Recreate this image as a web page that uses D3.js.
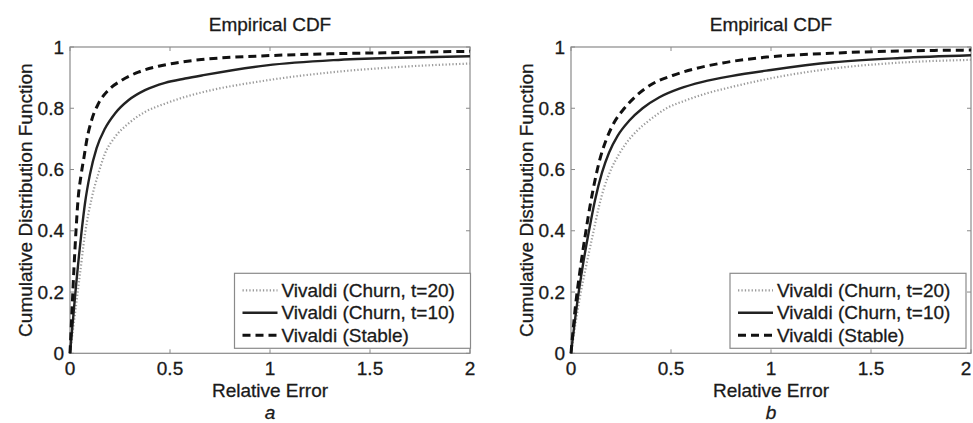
<!DOCTYPE html>
<html>
<head>
<meta charset="utf-8">
<script src="https://cdn.jsdelivr.net/npm/d3@7"></script>
<style>
	body { margin: 0; background: #fff; }
	svg { display: block; }
	text { font-family: "Liberation Sans", Arial, sans-serif; fill: #1a1a1a; stroke: #1a1a1a; stroke-width: 0.3; }
</style>
</head>
<body>
<div id="chart"></div>
<script>
// series: relative error (x) and CDF value (y)
const xTicks = [0, 0.5, 1, 1.5, 2];
const yTicks = [0, 0.2, 0.4, 0.6, 0.8, 1];
const seriesNames = ["Vivaldi (Churn, t=20)", "Vivaldi (Churn, t=10)", "Vivaldi (Stable)"];

// panel a
const churn20A_x = [0, 0.025, 0.05, 0.075, 0.108, 0.142, 0.175, 0.225, 0.292, 0.375, 0.475, 0.575, 0.667, 0.983, 1.317, 1.65, 2.0];
const churn20A_y = [0, 0.13, 0.26, 0.39, 0.505, 0.587, 0.652, 0.706, 0.75, 0.788, 0.815, 0.837, 0.853, 0.891, 0.918, 0.935, 0.946];
const churn10A_x = [0, 0.015, 0.03, 0.045, 0.06, 0.075, 0.1, 0.133, 0.175, 0.225, 0.292, 0.375, 0.475, 0.575, 0.667, 0.983, 1.317, 1.65, 2.0];
const churn10A_y = [0, 0.11, 0.22, 0.32, 0.41, 0.49, 0.585, 0.67, 0.734, 0.783, 0.826, 0.859, 0.883, 0.897, 0.908, 0.94, 0.957, 0.965, 0.97];
const stableA_x = [0, 0.01, 0.02, 0.03, 0.04, 0.055, 0.07, 0.085, 0.108, 0.142, 0.192, 0.258, 0.342, 0.442, 0.558, 0.658, 1.0, 1.317, 1.65, 2.0];
const stableA_y = [0, 0.14, 0.28, 0.4, 0.5, 0.58, 0.64, 0.7, 0.761, 0.815, 0.859, 0.891, 0.918, 0.937, 0.951, 0.959, 0.972, 0.978, 0.982, 0.986];

// panel b
const churn20B_x = [0, 0.042, 0.075, 0.11, 0.14, 0.165, 0.2, 0.24, 0.275, 0.325, 0.392, 0.475, 0.575, 0.675, 0.8, 1.0, 1.312, 1.645, 2.0];
const churn20B_y = [0, 0.174, 0.283, 0.39, 0.48, 0.54, 0.6, 0.65, 0.685, 0.723, 0.761, 0.799, 0.826, 0.848, 0.869, 0.898, 0.93, 0.949, 0.958];
const churn10B_x = [0, 0.03, 0.06, 0.09, 0.12, 0.155, 0.19, 0.233, 0.292, 0.358, 0.442, 0.542, 0.658, 0.8, 1.0, 1.312, 1.645, 2.0];
const churn10B_y = [0, 0.16, 0.29, 0.4, 0.5, 0.59, 0.655, 0.71, 0.76, 0.8, 0.836, 0.864, 0.886, 0.905, 0.925, 0.95, 0.964, 0.973];
const stableB_x = [0, 0.02, 0.045, 0.07, 0.095, 0.12, 0.145, 0.175, 0.217, 0.267, 0.325, 0.408, 0.508, 0.625, 0.758, 0.978, 1.312, 1.645, 2.0];
const stableB_y = [0, 0.14, 0.27, 0.38, 0.48, 0.565, 0.635, 0.695, 0.755, 0.8, 0.84, 0.88, 0.907, 0.93, 0.948, 0.967, 0.98, 0.987, 0.99];

var width = 973,
	height = 423;

// line styles, same order as seriesNames
const styles = [
	{ stroke: "#9c9c9c", width: 2.2, dash: "1.3,2.1" },
	{ stroke: "#222", width: 2.4, dash: null },
	{ stroke: "#111", width: 3, dash: "8,5" },
];

var svg = d3
	.select("#chart")
	.append("svg")
	.attr("width", width)
	.attr("height", height)
	.style("font-size", "19px");

function zip(xs, ys) {
	return xs.map((x, i) => ({ x: x, y: ys[i] }));
}

function panel(left, series, caption, legendRight) {
	var pw = 400,
		top = 47,
		bottom = 353.3;

	var x = d3.scaleLinear().domain([0, 2]).range([left, left + pw]);
	var y = d3.scaleLinear().domain([0, 1]).range([bottom, top]);

	var g = svg.append("g");

	// frame with inward ticks (matlab style)
	g.append("rect")
		.attr("x", x(0))
		.attr("y", y(1))
		.attr("width", pw)
		.attr("height", bottom - top)
		.attr("fill", "none")
		.attr("stroke", "#8a8a8a")
		.attr("stroke-width", 1.2);

	const tickLen = 4;
	g.append("g")
		.selectAll("path")
		.data(xTicks)
		.join("path")
		.attr("d", (d) => `M${x(d)},${bottom}v${-tickLen}M${x(d)},${top}v${tickLen}`)
		.attr("stroke", "#8a8a8a");
	g.append("g")
		.selectAll("path")
		.data(yTicks)
		.join("path")
		.attr("d", (d) => `M${left},${y(d)}h${tickLen}M${left + pw},${y(d)}h${-tickLen}`)
		.attr("stroke", "#8a8a8a");

	// last label would hang over the window edge on panel b, keep it inside
	g.append("g")
		.selectAll("text")
		.data(xTicks)
		.join("text")
		.attr("x", (d) => Math.min(x(d), width - 7))
		.attr("y", bottom + 22)
		.attr("text-anchor", "middle")
		.text((d) => d);
	g.append("g")
		.selectAll("text")
		.data(yTicks)
		.join("text")
		.attr("x", left - 6)
		.attr("y", (d) => y(d))
		.attr("dy", "0.35em")
		.attr("text-anchor", "end")
		.text((d) => d);

	g.append("text")
		.attr("x", x(1))
		.attr("y", 31)
		.attr("text-anchor", "middle")
		.text("Empirical CDF");
	g.append("text")
		.attr("x", x(1))
		.attr("y", 397)
		.attr("text-anchor", "middle")
		.text("Relative Error");
	g.append("text")
		.attr("transform", `translate(${left - 45},${(top + bottom) / 2}) rotate(-90)`)
		.attr("dy", "0.35em")
		.attr("text-anchor", "middle")
		.text("Cumulative Distribution Function");
	g.append("text")
		.attr("x", x(1))
		.attr("y", 419)
		.attr("text-anchor", "middle")
		.style("font-style", "italic")
		.text(caption);

	var line = d3
		.line()
		.x((d) => x(d.x))
		.y((d) => y(d.y))
		.curve(d3.curveMonotoneX);

	series.forEach((s, i) => {
		g.append("path")
			.attr("d", line(s))
			.attr("fill", "none")
			.attr("stroke", styles[i].stroke)
			.attr("stroke-width", styles[i].width)
			.attr("stroke-dasharray", styles[i].dash);
	});

	// legend box, lower right
	var lw = 236,
		lh = 75,
		lx = legendRight - lw,
		ly = bottom - 5 - lh;
	var leg = g.append("g").attr("transform", `translate(${lx},${ly})`);
	leg.append("rect")
		.attr("width", lw)
		.attr("height", lh)
		.attr("fill", "#fff")
		.attr("stroke", "#8a8a8a")
		.attr("stroke-width", 1.2);
	const rows = leg
		.selectAll("g")
		.data(seriesNames)
		.join("g")
		.attr("transform", (d, i) => `translate(0,${17 + i * 22.5})`);
	rows.append("path")
		.attr("d", "M8,0H43")
		.attr("fill", "none")
		.attr("stroke", (d, i) => styles[i].stroke)
		.attr("stroke-width", (d, i) => styles[i].width)
		.attr("stroke-dasharray", (d, i) => styles[i].dash);
	rows.append("text")
		.attr("x", 47)
		.attr("dy", "0.35em")
		.text((d) => d);
}

panel(70, [zip(churn20A_x, churn20A_y), zip(churn10A_x, churn10A_y), zip(stableA_x, stableA_y)], "a", 470.5);
panel(571, [zip(churn20B_x, churn20B_y), zip(churn10B_x, churn10B_y), zip(stableB_x, stableB_y)], "b", 966);
</script>
</body>
</html>
